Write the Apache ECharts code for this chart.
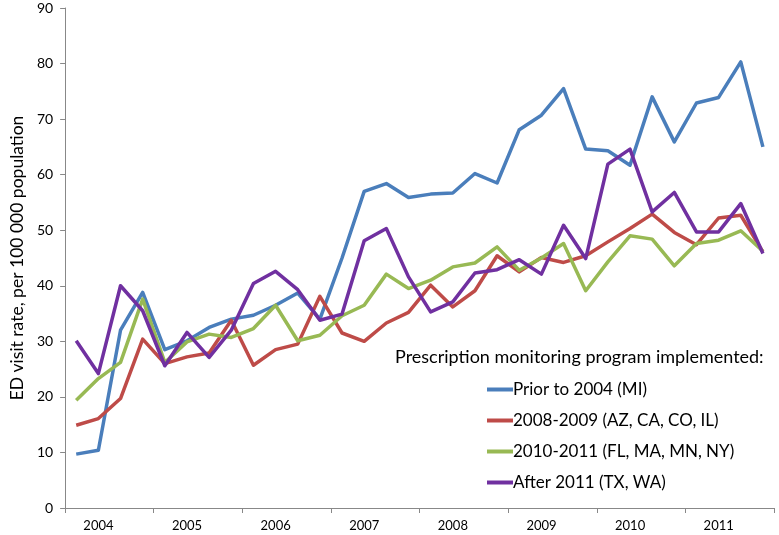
<!DOCTYPE html>
<html>
<head>
<meta charset="utf-8">
<script src="https://cdn.jsdelivr.net/npm/echarts@6/dist/echarts.min.js"></script>
<style>
html,body{margin:0;padding:0;background:#fff;}
#chart{width:779px;height:535px;}
</style>
</head>
<body>
<div id="chart"></div>
<script>
const years = ["2004","2005","2006","2007","2008","2009","2010","2011"];
const quarters = [];
years.forEach(y => ["Q1","Q2","Q3","Q4"].forEach(q => quarters.push(y + " " + q)));

const seriesNames = [
  "Prior to 2004 (MI)",
  "2008-2009 (AZ, CA, CO, IL)",
  "2010-2011 (FL, MA, MN, NY)",
  "After 2011 (TX, WA)"
];

const priorTo2004 = [9.7,10.4,32.0,38.8, 28.5,30.1,32.5,34.0, 34.7,36.5,38.7,34.0,
  45.0,57.0,58.4,55.9, 56.5,56.7,60.2,58.5, 68.1,70.7,75.5,64.6, 64.3,61.7,74.0,65.9, 72.9,73.9,80.3,65.0];
const y2008_2009 = [14.9,16.1,19.7,30.4, 26.0,27.2,27.9,33.8, 25.7,28.5,29.5,38.1,
  31.5,30.0,33.3,35.2, 40.1,36.2,39.1,45.4, 42.5,45.1,44.2,45.4, 47.9,50.3,52.9,49.6, 47.4,52.2,52.7,46.1];
const y2010_2011 = [19.4,23.3,26.2,37.6, 26.2,29.9,31.3,30.7, 32.3,36.5,30.1,31.1,
  34.6,36.5,42.1,39.5, 41.0,43.4,44.1,47.0, 42.8,45.0,47.6,39.1, 44.3,49.0,48.4,43.6, 47.6,48.2,49.9,46.2];
const after2011 = [30.1,24.2,40.0,35.5, 25.6,31.6,27.1,32.0, 40.4,42.6,39.3,33.8,
  34.9,48.1,50.3,41.6, 35.3,37.1,42.3,42.9, 44.7,42.1,50.9,44.9, 61.9,64.6,53.3,56.8, 49.7,49.7,54.8,45.8];

const colors = ["#4A7EBB","#BE4B48","#98B954","#7030A0"];
const allData = [priorTo2004, y2008_2009, y2010_2011, after2011];

const yTicks = {min:0, max:90, interval:10};

const chart = echarts.init(document.getElementById('chart'), null, {renderer:'canvas'});
const font = "Lato, 'Open Sans', sans-serif";

chart.setOption({
  animation:false,
  backgroundColor:'#ffffff',
  color: colors,
  title:{
    text:"Prescription monitoring program implemented:",
    left:390, top:343,
    textStyle:{fontFamily:font, fontSize:18, fontWeight:'normal', color:'#000'}
  },
  legend:{
    orient:'vertical',
    left:482, top:376,
    itemGap:14,
    itemWidth:26, itemHeight:4,
    icon:'rect',
    data: seriesNames,
    textStyle:{fontFamily:font, fontSize:17, color:'#000', padding:[0,0,0,-5]}
  },
  grid:{left:58, right:5, top:8, bottom:27, containLabel:false},
  xAxis:[
    {
      type:'category', data:years, boundaryGap:true, position:'bottom',
      axisLine:{lineStyle:{color:'#888', width:1}},
      axisTick:{show:true, alignWithLabel:false, length:5, lineStyle:{color:'#888'}},
      axisLabel:{fontFamily:font, fontSize:13, color:'#000', margin:11, padding:[0,22,0,0]},
      splitLine:{show:false}
    },
    {
      type:'category', data:quarters, boundaryGap:true, show:false
    }
  ],
  yAxis:{
    type:'value', min:yTicks.min, max:yTicks.max, interval:yTicks.interval,
    name:"ED visit rate, per 100 000 population",
    nameLocation:'middle', nameGap:39, nameRotate:90,
    nameTextStyle:{fontFamily:font, fontSize:17.5, color:'#000'},
    axisLine:{show:true, lineStyle:{color:'#888', width:1}},
    axisTick:{show:true, length:5, lineStyle:{color:'#888'}},
    axisLabel:{fontFamily:font, fontSize:14, color:'#000', margin:12},
    splitLine:{show:false}
  },
  series: seriesNames.map((n,i)=>({
    name:n, type:'line', xAxisIndex:1, data:allData[i],
    showSymbol:false, symbol:'none',
    lineStyle:{width:3.5, color:colors[i], join:'round'},
    itemStyle:{color:colors[i]}
  }))
});
</script>
</body>
</html>
